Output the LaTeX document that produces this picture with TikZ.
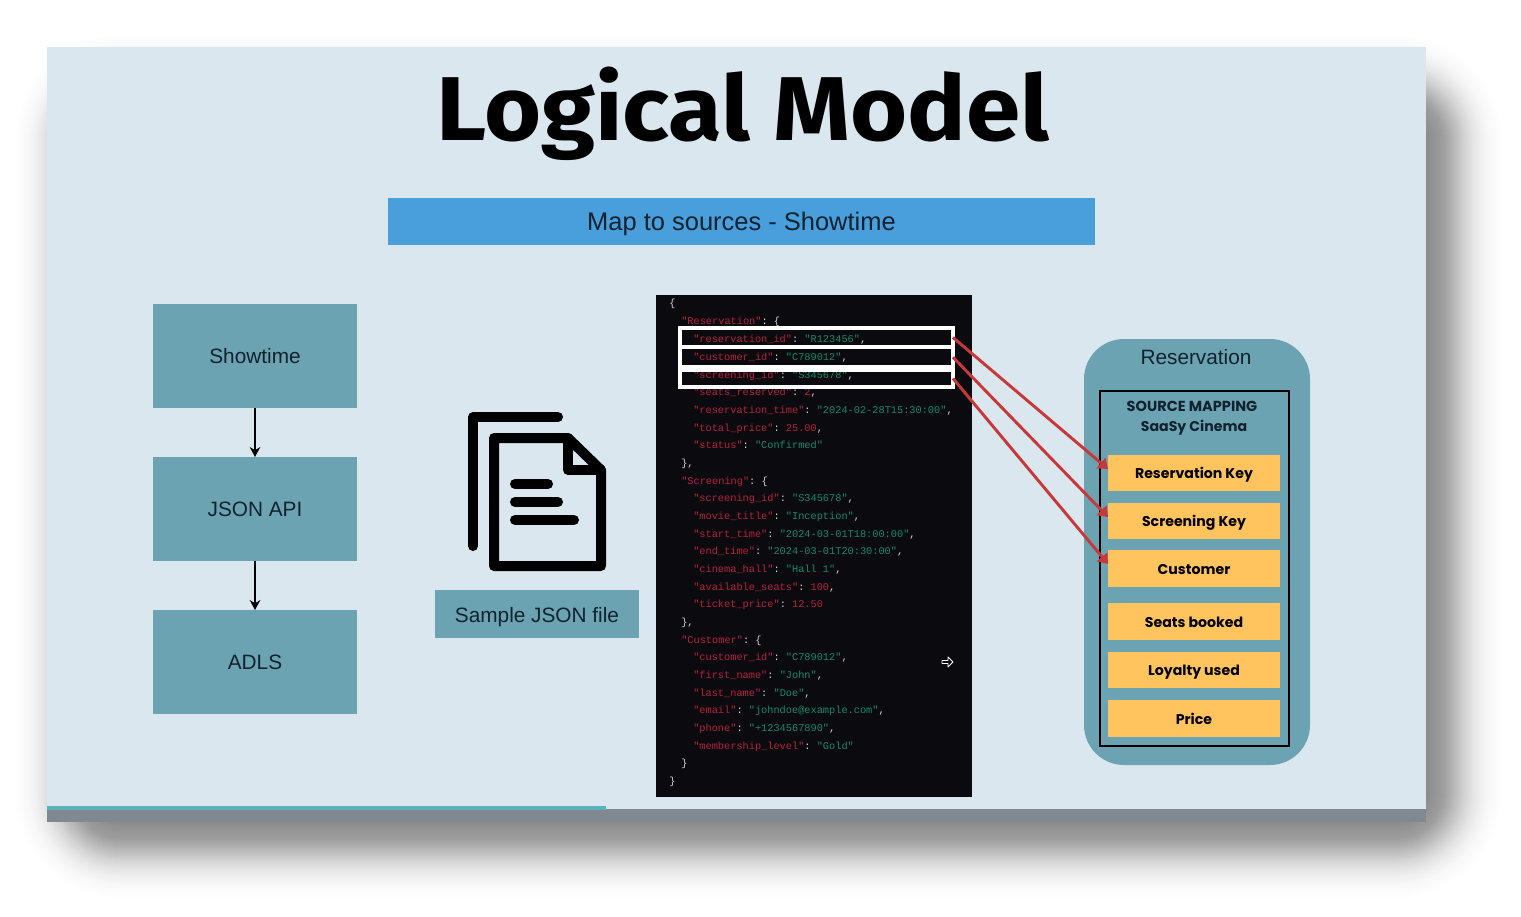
\documentclass[tikz,border=0pt]{standalone}
\usepackage{fontspec}
\setmainfont{Liberation Sans}
\setmonofont{Liberation Mono}
\newfontfamily\titlefont[FakeStretch=1.08]{Fira Sans}
\newfontfamily\roundfont{Poppins}
\usetikzlibrary{arrows.meta}
\definecolor{slidebg}{HTML}{DAE7EF}
\definecolor{stripgray}{HTML}{80898F}
\definecolor{teal}{HTML}{6CA3B2}
\definecolor{hdrblue}{HTML}{489FDC}
\definecolor{panelblk}{HTML}{0B0B0F}
\definecolor{jkey}{HTML}{B81F40}
\definecolor{jval}{HTML}{128A6B}
\definecolor{jpun}{HTML}{D0D4D4}
\definecolor{orangebox}{HTML}{FFC45E}
\definecolor{redline}{HTML}{C8383A}
\definecolor{inkdark}{HTML}{10222E}
\newcommand{\jk}[1]{\textcolor{jkey}{#1}}
\newcommand{\jv}[1]{\textcolor{jval}{#1}}
\newcommand{\jl}[4]{\node[jsonline] (#1) at (#2,#3) {#4};}
\tikzset{
  tealbox/.style={fill=teal,text=inkdark,inner sep=0pt,outer sep=0pt,font=\fontsize{15.6}{18}\selectfont},
  flowbox/.style={tealbox,minimum width=153pt,minimum height=78pt},
  flowarrow/.style={-{Stealth[length=7.5pt,width=8pt]},line width=2pt,black},
  jsonline/.style={anchor=base west,inner sep=0pt,text=jpun,font=\ttfamily\fontsize{7.72}{9}\selectfont},
  wbox/.style={draw=white,line width=2.8pt,inner sep=0pt,outer sep=0pt,minimum width=204.75pt},
  keybox/.style={fill=orangebox,text=black,inner sep=0pt,outer sep=0pt,minimum width=129pt,minimum height=27.5pt,text height=8.6pt,text depth=0pt,font=\roundfont\bfseries\fontsize{10.6}{12}\selectfont},
  redarrow/.style={-{Triangle[length=7pt,width=10pt]},line width=2.2pt,redline},
  iconline/.style={line width=7.5pt,black,line cap=round,line join=round},
}
\begin{document}
\begin{tikzpicture}[x=0.75pt,y=-0.75pt]
\useasboundingbox (0,0) rectangle (1521,917);
\fill[white] (0,0) rectangle (1521,917);
% soft shadow
\foreach \d in {-56,-54,...,56}{
  \pgfmathsetmacro{\rr}{max(1,56+\d)*0.75}
  \pgfmathsetmacro{\aa}{0.0205*exp(-(\d)*(\d)/1152)}
  \fill[black,fill opacity=\aa,rounded corners=\rr pt] (65-\d,85-\d) rectangle (1452+\d,848+\d);
}
% slide
\fill[stripgray] (47,800) rectangle (1426,822);
\fill[slidebg] (47,47) rectangle (1426,809);
\fill[teal!85!cyan] (47,806) rectangle (606,810);
% title and header
\node[inner sep=0pt,font=\titlefont\bfseries\fontsize{68}{74}\selectfont,text=black,anchor=base] (title) at (743,140) {Logical Model};
\node[fill=hdrblue,text=inkdark,inner sep=0pt,outer sep=0pt,minimum width=530pt,minimum height=35.25pt,text height=14.2pt,text depth=0pt,font=\fontsize{19.1}{22}\selectfont] (hdr) at (741.5,221.5) {Map to sources - Showtime};
% left flow
\node[flowbox] (show) at (255,356) {Showtime};
\node[flowbox] (api) at (255,509) {JSON API};
\node[flowbox] (adls) at (255,662) {ADLS};
\draw[flowarrow] (show) -- (api);
\draw[flowarrow] (api) -- (adls);
% document icon
\draw[iconline] (473,546) -- (473,417) -- (558,417);
\draw[iconline] (568,438) -- (494,438) -- (494,566) -- (601,566) -- (601,470) -- cycle;
\draw[iconline] (568,438) -- (568,470) -- (601,470);
\draw[iconline] (515,484) -- (548,484);
\draw[iconline] (515,502) -- (558,502);
\draw[iconline] (515,520) -- (574,520);
\node[tealbox,minimum width=153pt,minimum height=36pt,text height=12pt,text depth=0pt] (sample) at (537,614) {Sample JSON file};
% json panel
\fill[panelblk] (656,295) rectangle (972,797);
\jl{j1}{669}{306}{\{}
\jl{j2}{681}{324}{\jk{"Reservation"}: \{}
\jl{j3}{693}{342}{\jk{"reservation\_id"}: \jv{"R123456"},}
\jl{j4}{693}{360}{\jk{"customer\_id"}: \jv{"C789012"},}
\jl{j5}{693}{378}{\jk{"screening\_id"}: \jv{"S345678"},}
\jl{j6}{693}{395.5}{\jk{"seats\_reserved"}: \jk{2},}
\jl{j7}{693}{413}{\jk{"reservation\_time"}: \jv{"2024-02-28T15:30:00"},}
\jl{j8}{693}{431}{\jk{"total\_price"}: \jk{25.00},}
\jl{j9}{693}{448.5}{\jk{"status"}: \jv{"Confirmed"}}
\jl{j10}{681}{466}{\},}
\jl{j11}{681}{484}{\jk{"Screening"}: \{}
\jl{j12}{693}{501.5}{\jk{"screening\_id"}: \jv{"S345678"},}
\jl{j13}{693}{519.5}{\jk{"movie\_title"}: \jv{"Inception"},}
\jl{j14}{693}{537}{\jk{"start\_time"}: \jv{"2024-03-01T18:00:00"},}
\jl{j15}{693}{554.5}{\jk{"end\_time"}: \jv{"2024-03-01T20:30:00"},}
\jl{j16}{693}{572.5}{\jk{"cinema\_hall"}: \jv{"Hall 1"},}
\jl{j17}{693}{590}{\jk{"available\_seats"}: \jk{100},}
\jl{j18}{693}{607.5}{\jk{"ticket\_price"}: \jk{12.50}}
\jl{j19}{681}{625.5}{\},}
\jl{j20}{681}{643}{\jk{"Customer"}: \{}
\jl{j21}{693}{660.5}{\jk{"customer\_id"}: \jv{"C789012"},}
\jl{j22}{693}{678.5}{\jk{"first\_name"}: \jv{"John"},}
\jl{j23}{693}{696}{\jk{"last\_name"}: \jv{"Doe"},}
\jl{j24}{693}{713.5}{\jk{"email"}: \jv{"johndoe@example.com"},}
\jl{j25}{693}{731.5}{\jk{"phone"}: \jv{"+1234567890"},}
\jl{j26}{693}{749}{\jk{"membership\_level"}: \jv{"Gold"}}
\jl{j27}{681}{766.5}{\}}
\jl{j28}{669}{784.5}{\}}
% pointer
\draw[white,line width=0.7pt,line join=round] (942,660.5) -- (948,660.5) -- (948,657) -- (953,662) -- (948,667) -- (948,663.5) -- (942,663.5) -- cycle;
% right card
\fill[teal,rounded corners=30pt] (1084,339) rectangle (1310,765);
\node[inner sep=0pt,text=inkdark,font=\fontsize{15.6}{18}\selectfont] (rescap) at (1196,357) {Reservation};
\draw[black,line width=2.2pt] (1100,391) rectangle (1289,746);
\node[inner sep=0pt,text=inkdark,font=\roundfont\bfseries\fontsize{10.9}{12}\selectfont] (srcmap) at (1192,406) {SOURCE MAPPING};
\node[inner sep=0pt,text=inkdark,font=\roundfont\bfseries\fontsize{10.6}{12}\selectfont] (saasy) at (1194,427.5) {SaaSy Cinema};
\node[keybox] (k1) at (1194,473) {Reservation Key};
\node[keybox] (k2) at (1194,521) {Screening Key};
\node[keybox] (k3) at (1194,568.5) {Customer};
\node[keybox] (k4) at (1194,621.5) {Seats booked};
\node[keybox] (k5) at (1194,670) {Loyalty used};
\node[keybox] (k6) at (1194,718.5) {Price};
% highlight boxes
\node[wbox,minimum height=14.25pt] (r1) at (816.5,337.5) {};
\node[wbox,minimum height=14.5pt] (r2) at (816.5,357.25) {};
\node[wbox,minimum height=12.75pt] (r3) at (816.5,378.5) {};
% mapping arrows
\coordinate (e1) at (1108,469);
\coordinate (e2) at (1108,517);
\coordinate (e3) at (1108,564);
\draw[redarrow] (r1.east) -- (e1);
\draw[redarrow] (r2.east) -- (e2);
\draw[redarrow] (r3.east) -- (e3);
\end{tikzpicture}
\end{document}
